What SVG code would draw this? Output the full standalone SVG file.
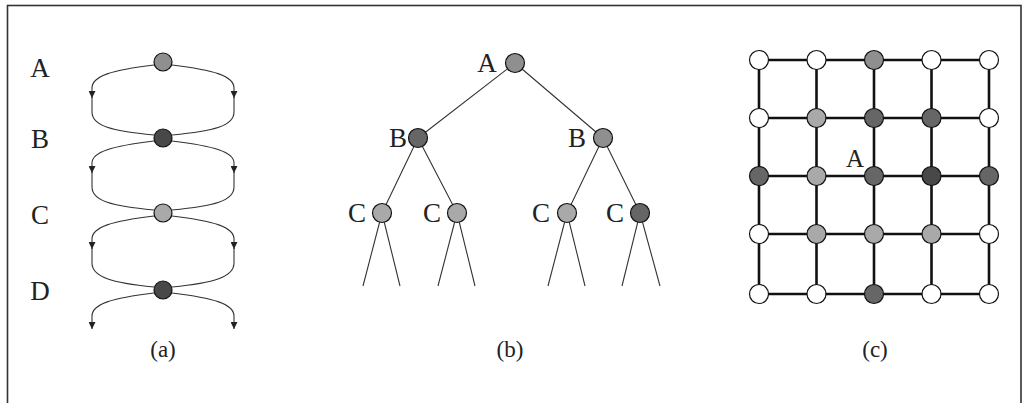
<svg xmlns="http://www.w3.org/2000/svg" width="1023" height="403" viewBox="0 0 1023 403">
<defs>
<style>
.bg{fill:#fff}
.frame{fill:none;stroke:#333;stroke-width:1.6}
.lbl{font-family:"Liberation Serif",serif;font-size:27px;fill:#222;text-anchor:middle}
.cap{font-family:"Liberation Serif",serif;font-size:23px;fill:#222;text-anchor:middle}
.thin{fill:none;stroke:#333;stroke-width:1.1}
.arr{fill:none;stroke:#333;stroke-width:1.1;marker-end:url(#ah)}
.grid{fill:none;stroke:#111;stroke-width:2.6}
.n{stroke:#111;stroke-width:1.2}
.w{fill:#fff}
.l{fill:#a9a9a9}
.m{fill:#8f8f8f}
.d{fill:#666}
.x{fill:#484848}
</style>
<marker id="ah" viewBox="0 0 10 10" refX="10" refY="5" markerWidth="11" markerHeight="7" markerUnits="userSpaceOnUse" orient="auto">
<path d="M0,0 L10,5 L0,10 Z" fill="#222"/>
</marker>
</defs>
<rect class="bg" x="0" y="0" width="1023" height="403"/>
<rect class="frame" x="7.5" y="5.5" width="1013.5" height="420"/>

<g id="connectors">
<path class="arr" d="M154,65 C112,70 92,76 92,88 L92,98"/>
<path class="thin" d="M92,97 L92,112 C92,126 112,131 154,135"/>
<path class="arr" d="M172,65 C214,70 234,76 234,88 L234,98"/>
<path class="thin" d="M234,97 L234,112 C234,126 214,131 172,135"/>

<path class="arr" d="M154,141 C112,146 92,152 92,163 L92,173"/>
<path class="thin" d="M92,172 L92,187 C92,201 112,206 154,210"/>
<path class="arr" d="M172,141 C214,146 234,152 234,163 L234,173"/>
<path class="thin" d="M234,172 L234,187 C234,201 214,206 172,210"/>

<path class="arr" d="M154,216 C112,221 92,227 92,239 L92,249"/>
<path class="thin" d="M92,248 L92,263 C92,277 112,283 154,287"/>
<path class="arr" d="M172,216 C214,221 234,227 234,239 L234,249"/>
<path class="thin" d="M234,248 L234,263 C234,277 214,283 172,287"/>

<path class="arr" d="M154,293 C112,298 92,304 92,316 L92,329"/>
<path class="arr" d="M172,293 C214,298 234,304 234,316 L234,329"/>

<path class="thin" d="M515,63 L418,138 M515,63 L603,138"/>
<path class="thin" d="M418,138 L382,213 M418,138 L457,213 M603,138 L567,213 M603,138 L640,213"/>
<path class="thin" d="M382,213 L363,286 M382,213 L400,286 M457,213 L438,286 M457,213 L475,286 M567,213 L548,286 M567,213 L585,286 M640,213 L622,286 M640,213 L660,286"/>

<path class="grid" d="M759,60 H989 M759,118 H989 M759,176 H989 M759,234 H989 M759,294 H989"/>
<path class="grid" d="M759,60 V294 M816.5,60 V294 M874,60 V294 M931.5,60 V294 M989,60 V294"/>
</g>

<g id="a-A"><circle class="n m" cx="163" cy="62" r="9"/><text class="lbl" x="40" y="77">A</text></g>
<g id="a-B"><circle class="n x" cx="163" cy="138" r="9"/><text class="lbl" x="40" y="148">B</text></g>
<g id="a-C"><circle class="n l" cx="163" cy="213" r="9"/><text class="lbl" x="40" y="224">C</text></g>
<g id="a-D"><circle class="n x" cx="163" cy="290" r="9"/><text class="lbl" x="40" y="300">D</text></g>
<text class="cap" x="163" y="357">(a)</text>

<g id="b-A"><circle class="n m" cx="515" cy="63" r="9.5"/><text class="lbl" x="487" y="72">A</text></g>
<g id="b-B1"><circle class="n d" cx="418" cy="138" r="9.5"/><text class="lbl" x="398" y="147">B</text></g>
<g id="b-B2"><circle class="n m" cx="603" cy="138" r="9.5"/><text class="lbl" x="577" y="147">B</text></g>
<g id="b-C1"><circle class="n l" cx="382" cy="213" r="9.5"/><text class="lbl" x="357" y="222">C</text></g>
<g id="b-C2"><circle class="n l" cx="457" cy="213" r="9.5"/><text class="lbl" x="432" y="222">C</text></g>
<g id="b-C3"><circle class="n l" cx="567" cy="213" r="9.5"/><text class="lbl" x="541" y="222">C</text></g>
<g id="b-C4"><circle class="n d" cx="640" cy="213" r="9.5"/><text class="lbl" x="615" y="222">C</text></g>
<text class="cap" x="510" y="357">(b)</text>

<g id="c-r0">
<circle class="n w" cx="759" cy="60" r="9.5"/>
<circle class="n w" cx="816.5" cy="60" r="9.5"/>
<circle class="n m" cx="874" cy="60" r="9.5"/>
<circle class="n w" cx="931.5" cy="60" r="9.5"/>
<circle class="n w" cx="989" cy="60" r="9.5"/>
</g>
<g id="c-r1">
<circle class="n w" cx="759" cy="118" r="9.5"/>
<circle class="n l" cx="816.5" cy="118" r="9.5"/>
<circle class="n d" cx="874" cy="118" r="9.5"/>
<circle class="n d" cx="931.5" cy="118" r="9.5"/>
<circle class="n w" cx="989" cy="118" r="9.5"/>
</g>
<g id="c-r2">
<circle class="n d" cx="759" cy="176" r="9.5"/>
<circle class="n l" cx="816.5" cy="176" r="9.5"/>
<circle class="n d" cx="874" cy="176" r="9.5"/>
<circle class="n x" cx="931.5" cy="176" r="9.5"/>
<circle class="n d" cx="989" cy="176" r="9.5"/>
</g>
<g id="c-r3">
<circle class="n w" cx="759" cy="234" r="9.5"/>
<circle class="n l" cx="816.5" cy="234" r="9.5"/>
<circle class="n l" cx="874" cy="234" r="9.5"/>
<circle class="n l" cx="931.5" cy="234" r="9.5"/>
<circle class="n w" cx="989" cy="234" r="9.5"/>
</g>
<g id="c-r4">
<circle class="n w" cx="759" cy="294" r="9.5"/>
<circle class="n w" cx="816.5" cy="294" r="9.5"/>
<circle class="n d" cx="874" cy="294" r="9.5"/>
<circle class="n w" cx="931.5" cy="294" r="9.5"/>
<circle class="n w" cx="989" cy="294" r="9.5"/>
</g>
<g id="c-label"><text class="lbl" x="855" y="167" style="font-size:25px">A</text></g>
<text class="cap" x="875" y="357">(c)</text>
</svg>
